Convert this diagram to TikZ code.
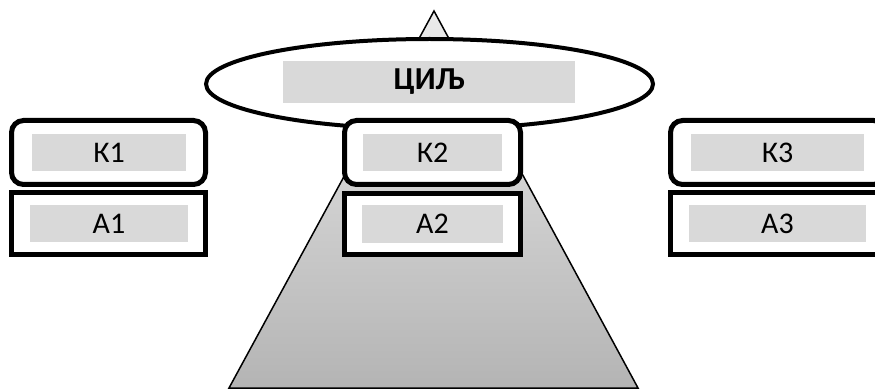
\documentclass[tikz,border=0pt]{standalone}
\usepackage{fontspec}
\setmainfont{Carlito}
\usetikzlibrary{shapes.geometric}
\definecolor{labelgray}{HTML}{D9D9D9}
\definecolor{pyrtop}{HTML}{EBEBEB}
\definecolor{pyrbottom}{HTML}{B4B4B4}
\newcommand{\boxfont}{\fontsize{30}{34}\selectfont}
\newcommand{\goalfont}{\fontsize{32}{36}\selectfont\bfseries}
\tikzset{
  critbox/.style={draw=black, line width=5pt, fill=white, rounded corners=12pt, inner sep=0pt},
  altbox/.style={draw=black, line width=5pt, fill=white, inner sep=0pt},
  graylabel/.style={fill=labelgray, inner sep=0pt, font=\boxfont},
  goalshape/.style={draw=black, ellipse, line width=4pt, fill=white, inner sep=0pt},
}
\begin{document}
\begin{tikzpicture}[x=1pt,y=-1pt]
\useasboundingbox (0,0) rectangle (875,390);
\clip (0,0) rectangle (875,390);

% pyramid behind everything
\coordinate (apex) at (434,11);
\coordinate (baseL) at (229,388);
\coordinate (baseR) at (638,388);
\shade[top color=pyrtop, bottom color=pyrbottom] (apex) -- (baseL) -- (baseR) -- cycle;
\draw[line width=1.5pt, line join=miter] (apex) -- (baseL) -- (baseR) -- cycle;

% goal
\node[goalshape, minimum width=447pt, minimum height=90pt] (goal) at (429.5,84) {};
\node[graylabel, minimum width=292pt, minimum height=42pt, font=\goalfont] (goaltxt) at (429,82) {ЦИЉ};

% criteria (rounded) and alternatives (square)
\node[critbox, minimum width=194pt, minimum height=64pt] (k1) at (108.5,152.5) {};
\node[altbox,  minimum width=194pt, minimum height=62pt] (a1) at (108.5,223.5) {};
\node[critbox, minimum width=176pt, minimum height=64pt] (k2) at (432.5,152.5) {};
\node[altbox,  minimum width=176pt, minimum height=61pt] (a2) at (432.5,224) {};
\node[critbox, minimum width=215pt, minimum height=64pt] (k3) at (778,152.5) {};
\node[altbox,  minimum width=215pt, minimum height=62pt] (a3) at (778,223.5) {};

% labels
\node[graylabel, minimum width=154pt, minimum height=37pt] (k1t) at (109,152.5) {К1};
\node[graylabel, minimum width=158pt, minimum height=37pt] (a1t) at (109,223.5) {А1};
\node[graylabel, minimum width=139pt, minimum height=37pt] (k2t) at (432.5,152.5) {К2};
\node[graylabel, minimum width=141pt, minimum height=38pt] (a2t) at (432.5,224) {А2};
\node[graylabel, minimum width=173pt, minimum height=37pt] (k3t) at (777.5,152.5) {К3};
\node[graylabel, minimum width=177pt, minimum height=37pt] (a3t) at (777.5,223.5) {А3};
\end{tikzpicture}
\end{document}
